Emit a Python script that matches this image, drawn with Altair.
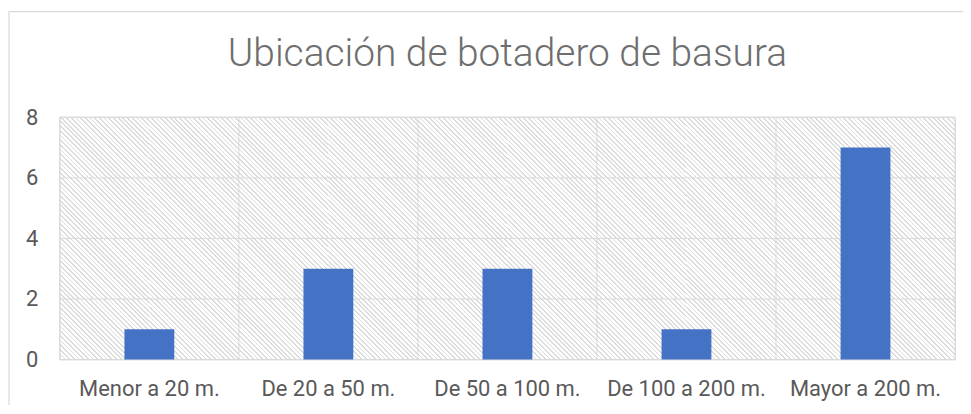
import altair as alt
import pandas as pd

categories = ["Menor a 20 m.", "De 20 a 50 m.", "De 50 a 100 m.", "De 100 a 200 m.", "Mayor a 200 m."]
values = [1, 3, 3, 1, 7]
y_ticks = [0, 2, 4, 6, 8]
title_text = "Ubicación de botadero de basura"

W, H = 898, 243
GRID = "#d9d9d9"
LABEL = "#595959"
FONT = "Roboto"

df = pd.DataFrame({"cat": categories, "value": values})
df_ticks = pd.DataFrame({"v": y_ticks})
df_one = pd.DataFrame({"k": [0]})
# hatch cells: two per category band and one per y-grid interval
halves = ["a", "b"]
df_cells = pd.DataFrame(
    [{"cat": c, "half": h, "lo": lo, "hi": hi}
     for c in categories for h in halves for lo, hi in zip(y_ticks[:-1], y_ticks[1:])]
)

# diagonal hatch pattern as a hard-stop linear gradient (style only)
cw, ch = W / len(categories) / len(halves), H / (len(y_ticks) - 1)
N = 32
f = 0.375
HATCH = "#dcdcdc"
stops = []
for k in range(N):
    a = k / N
    b = (k + f) / N
    stops += [
        alt.GradientStop(offset=a, color="#ffffff"),
        alt.GradientStop(offset=a, color=HATCH),
        alt.GradientStop(offset=b, color=HATCH),
        alt.GradientStop(offset=b, color="#ffffff"),
    ]
t = (cw + ch) / (cw * cw + ch * ch)
hatch_fill = alt.LinearGradient(
    gradient="linear", stops=stops, x1=0, y1=1, x2=t * cw, y2=1 - t * ch
)

xscale = alt.Scale(paddingInner=0, paddingOuter=0)
yscale = alt.Scale(domain=[0, 8])

hatch = alt.Chart(df_cells).mark_rect(fill=hatch_fill, strokeWidth=0).encode(
    x=alt.X("cat:N", sort=categories, scale=xscale, title=None),
    xOffset=alt.XOffset("half:N", scale=alt.Scale(paddingInner=0, paddingOuter=0)),
    y=alt.Y("lo:Q", scale=yscale, title=None),
    y2="hi:Q",
)

frame = alt.Chart(df_one).mark_rect(fill=None, stroke=GRID, strokeWidth=1).encode(
    x=alt.value(0), x2=alt.value("width"), y=alt.value(0), y2=alt.value("height")
)

hgrid = alt.Chart(df_ticks).mark_rule(color=GRID, strokeWidth=1).encode(
    y=alt.Y("v:Q", scale=yscale, title=None)
)

vgrid = alt.Chart(df).mark_rule(color=GRID, strokeWidth=1).encode(
    x=alt.X("cat:N", sort=categories, scale=xscale, bandPosition=0, title=None)
)

bars = alt.Chart(df).mark_bar(size=50, color="#4472C4").encode(
    x=alt.X("cat:N", sort=categories, scale=xscale, title=None),
    y=alt.Y("value:Q", scale=yscale, title=None, axis=alt.Axis(values=y_ticks)),
)

border_top = alt.Chart(df_one).mark_rule(color=GRID, strokeWidth=1.2).encode(
    x=alt.value(-51), x2=alt.value(W + 10), y=alt.value(-106)
)
border_left = alt.Chart(df_one).mark_rule(color=GRID, strokeWidth=1.2).encode(
    x=alt.value(-51), y=alt.value(-106), y2=alt.value(H + 50)
)

chart = (
    alt.layer(border_top, border_left, hatch, frame, hgrid, vgrid, bars)
    .properties(
        width=W,
        height=H,
        title=alt.TitleParams(
            title_text, font=FONT, fontSize=39, fontWeight=300, color="#6e6e6e",
            anchor="middle", frame="group", baseline="alphabetic", offset=-94,
        ),
        autosize=alt.AutoSizeParams(type="none"),
        padding={"left": 52, "top": 109, "right": 8, "bottom": 45},
    )
    .configure_view(stroke=None)
    .configure(background="#ffffff")
    .configure_axisX(
        labelAngle=0, ticks=False, domain=False, grid=False,
        labelFont=FONT, labelFontSize=22, labelColor=LABEL, labelPadding=19,
    )
    .configure_axisY(
        ticks=False, domain=False, grid=False,
        labelFont=FONT, labelFontSize=22, labelColor=LABEL, labelPadding=22,
    )
)

chart.save("out.html", embed_options={"renderer": "svg", "actions": False})
